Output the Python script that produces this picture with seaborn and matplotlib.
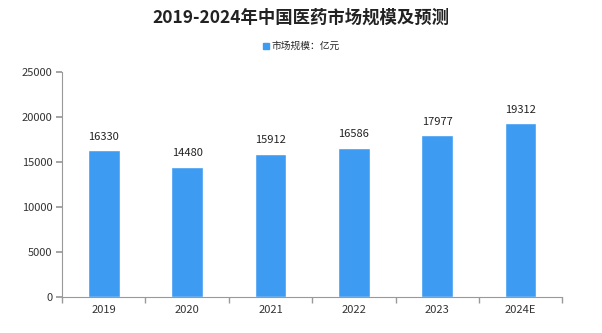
import matplotlib
matplotlib.use("Agg")
import matplotlib.pyplot as plt
import seaborn as sns
import pandas as pd
from matplotlib.lines import Line2D

years = ["2019", "2020", "2021", "2022", "2023", "2024E"]
values = [16330, 14480, 15912, 16586, 17977, 19312]
yticks = [0, 5000, 10000, 15000, 20000, 25000]
title = "2019-2024年中国医药市场规模及预测"
legend_label = "市场规模：亿元"

sns.set_theme(style="white")
plt.rcParams['font.family'] = ['Noto Sans CJK SC', 'DejaVu Sans']

df = pd.DataFrame({"year": years, "value": values})
fig = plt.figure(figsize=(6.02, 3.33), dpi=100)
ax = fig.add_axes([0.103, 0.108, 0.831, 0.676])
bar_color = "#3d9bf2"
sns.barplot(data=df, x="year", y="value", color=bar_color, width=0.38, ax=ax, saturation=1)

ax.set_ylim(0, 25000)
ax.set_yticks(yticks)
ax.set_yticklabels([str(t) for t in yticks], fontsize=8, color="#333333")
ax.set_xlim(-0.5, len(years) - 0.5)
ax.set_xticks(range(len(years)))
ax.set_xticklabels(years, fontsize=8, color="#333333")
ax.tick_params(axis="x", length=0, pad=6)
ax.set_xticks([i - 0.5 for i in range(len(years) + 1)], minor=True)
ax.tick_params(axis="x", which="minor", length=4, color="#999999", direction="out", bottom=True)
ax.tick_params(axis="y", length=4, color="#999999", direction="out", left=True, pad=3)
ax.set_xlabel("")
ax.set_ylabel("")
for s in ["top", "right"]:
    ax.spines[s].set_visible(False)
for s in ["left", "bottom"]:
    ax.spines[s].set_color("#999999")
    ax.spines[s].set_linewidth(0.8)

for c in ax.containers:
    ax.bar_label(c, labels=[str(v) for v in values], padding=6, fontsize=8, color="#222222")

fig.text(0.5, 0.948, title, ha="center", va="center", fontsize=12.5, fontweight="bold", color="#222222")
handle = Line2D([], [], marker="s", linestyle="", color=bar_color, markersize=4.5)
fig.legend([handle], [legend_label], loc="center", bbox_to_anchor=(0.5, 0.862), frameon=False,
           fontsize=7, handletextpad=0.1, handlelength=0.8)

fig.savefig("out.png", dpi=100)
